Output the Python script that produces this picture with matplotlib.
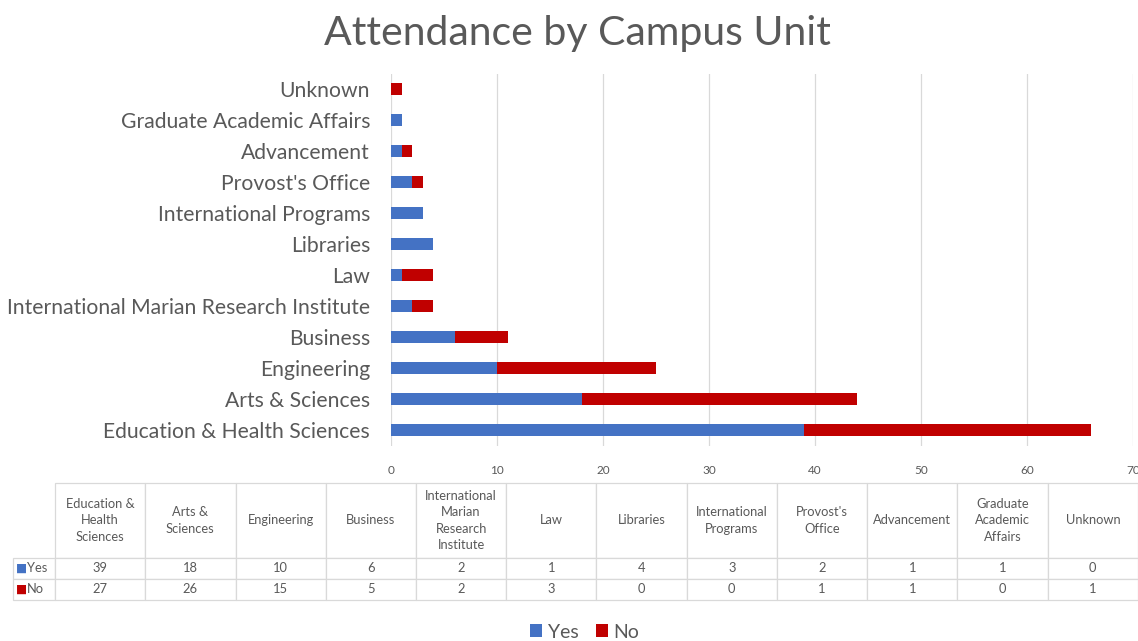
import matplotlib
matplotlib.use("Agg")
import matplotlib.pyplot as plt
import numpy as np

plt.rcParams['font.family'] = ['Lato', 'DejaVu Sans']

# --- DATA ---
units = ["Education & Health Sciences", "Arts & Sciences", "Engineering", "Business",
         "International Marian Research Institute", "Law", "Libraries",
         "International Programs", "Provost's Office", "Advancement",
         "Graduate Academic Affairs", "Unknown"]
table_headers = ["Education &\nHealth\nSciences", "Arts &\nSciences", "Engineering", "Business",
                 "International\nMarian\nResearch\nInstitute", "Law", "Libraries",
                 "International\nPrograms", "Provost's\nOffice", "Advancement",
                 "Graduate\nAcademic\nAffairs", "Unknown"]
yes_counts = [39, 18, 10, 6, 2, 1, 4, 3, 2, 1, 1, 0]
no_counts = [27, 26, 15, 5, 2, 3, 0, 0, 1, 1, 0, 1]
x_ticks = [0, 10, 20, 30, 40, 50, 60, 70]
# ------------

BLUE = "#4472C4"
RED = "#C00000"
GRAY_TXT = "#595959"
GRID = "#d9d9d9"

W, H = 1138, 641
fig = plt.figure(figsize=(W / 100, H / 100), dpi=100)

# main bar axes
ax = fig.add_axes([391 / W, 1 - 445.5 / H, 742 / W, 372 / H])
y = np.arange(len(units))
ax.barh(y, yes_counts, height=0.36, color=BLUE, label="Yes", zorder=3)
ax.barh(y, no_counts, left=yes_counts, height=0.36, color=RED, label="No", zorder=3)
ax.set_xlim(0, 70)
ax.set_ylim(-0.5, len(units) - 0.5)
ax.set_xticks(x_ticks)
ax.set_yticks(y)
ax.set_yticklabels(units, fontsize=15.2, color=GRAY_TXT)
ax.tick_params(axis='x', labelsize=8.5, colors=GRAY_TXT, length=0, pad=14)
ax.tick_params(axis='y', length=0, pad=15)
ax.grid(axis='x', color=GRID, lw=0.9, zorder=0)
for s in ax.spines.values():
    s.set_visible(False)

fig.text(577 / W, 1 - 33 / H, "Attendance by Campus Unit", ha='center', va='center',
         fontsize=29.5, color=GRAY_TXT)

# data table under the chart
tax = fig.add_axes([13 / W, 1 - 600 / H, 1125 / W, 117 / H])
tax.axis('off')
cells = [[""] + table_headers,
         ["Yes"] + [str(v) for v in yes_counts],
         ["No"] + [str(v) for v in no_counts]]
first_w = 42
col_w = (1125 - first_w) / len(units)
tbl = tax.table(cellText=cells, cellLoc='center', bbox=[0, 0, 1, 1])
tbl.auto_set_font_size(False)
tbl.set_fontsize(9.3)
row_h = [74, 21, 21]
for (r, c), cell in tbl.get_celld().items():
    cell.set_width(first_w if c == 0 else col_w)
    cell.set_height(row_h[r])
    cell.set_edgecolor(GRID)
    cell.set_linewidth(0.9)
    cell.get_text().set_color(GRAY_TXT)
    cell.get_text().set_linespacing(1.45)
    if r == 0 and c == 0:
        cell.visible_edges = ''
    if c == 0 and r > 0:
        cell.get_text().set_ha('left')
        cell._loc = 'left'
        cell.PAD = 0.34
tax.text(0.003, (21 + 10.5) / 117, "■", color=BLUE, fontsize=8.5, va='center',
         family='DejaVu Sans')
tax.text(0.003, 10.5 / 117, "■", color=RED, fontsize=8.5, va='center',
         family='DejaVu Sans')

handles, labels = ax.get_legend_handles_labels()
fig.legend(handles, labels, loc='center', bbox_to_anchor=(585 / W, 1 - 632 / H), ncol=2,
           frameon=False, fontsize=14, handlelength=0.6, handleheight=0.6,
           handletextpad=0.3, columnspacing=0.9, labelcolor=GRAY_TXT)

fig.savefig("out.png", dpi=100)
